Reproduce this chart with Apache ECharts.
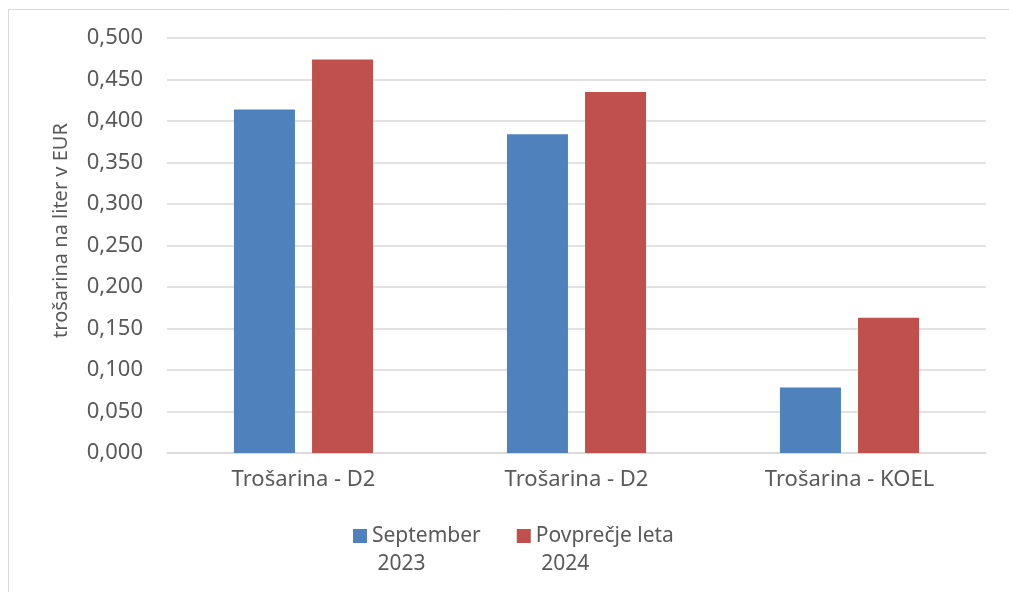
<!DOCTYPE html>
<html>
<head>
<meta charset="utf-8">
<script src="https://cdn.jsdelivr.net/npm/echarts@6/dist/echarts.min.js"></script>
<style>
  html, body { margin: 0; padding: 0; background: #fff; }
  #chart { width: 1009px; height: 592px; }
</style>
</head>
<body>
<div id="chart"></div>
<script>
var categories = ['Trošarina - D2', 'Trošarina - D2', 'Trošarina - KOEL'];
var seriesNames = ['September\n 2023', 'Povprečje leta\n 2024'];
var sept2023 = [0.414, 0.384, 0.079];
var avg2024 = [0.474, 0.435, 0.163];

var textColor = '#595959';
var fontFamily = '"Noto Sans", sans-serif';

var chart = echarts.init(document.getElementById('chart'));
chart.setOption({
  animation: false,
  backgroundColor: '#fff',
  textStyle: { fontFamily: fontFamily },
  graphic: [{
    type: 'rect',
    shape: { x: 8.5, y: 9.5, width: 1100, height: 700 },
    style: { fill: 'none', stroke: '#d9d9d9', lineWidth: 1 },
    silent: true
  }],
  grid: { left: 167, right: 23, top: 38, bottom: 139 },
  legend: {
    left: 353,
    top: 494,
    padding: 0,
    itemWidth: 14,
    itemHeight: 14,
    itemGap: 36,
    icon: 'rect',
    // leading blank line keeps the icon level with the first text line
    formatter: function (n) { return '\n' + n; },
    textStyle: {
      color: textColor,
      fontSize: 21,
      lineHeight: 28
    },
    data: seriesNames
  },
  xAxis: {
    type: 'category',
    data: categories,
    axisTick: { show: false },
    axisLine: { lineStyle: { color: '#d9d9d9', width: 1.5 } },
    axisLabel: { color: textColor, fontSize: 22, margin: 16 }
  },
  yAxis: {
    type: 'value',
    min: 0,
    max: 0.5,
    interval: 0.05,
    name: 'trošarina na liter v EUR',
    nameLocation: 'middle',
    nameGap: 96,
    nameTextStyle: { color: textColor, fontSize: 20, padding: [0, 0, 0, 30] },
    axisLine: { show: false },
    axisTick: { show: false },
    splitLine: { lineStyle: { color: '#d9d9d9', width: 1.5 } },
    axisLabel: {
      color: textColor,
      fontSize: 22,
      margin: 24,
      formatter: function (v) { return v.toFixed(3).replace('.', ','); }
    }
  },
  series: [
    {
      name: seriesNames[0],
      type: 'bar',
      data: sept2023,
      barWidth: 61,
      barGap: '28%',
      itemStyle: { color: '#4f81bd' }
    },
    {
      name: seriesNames[1],
      type: 'bar',
      data: avg2024,
      barWidth: 61,
      itemStyle: { color: '#c0504d' }
    }
  ]
});
</script>
</body>
</html>
